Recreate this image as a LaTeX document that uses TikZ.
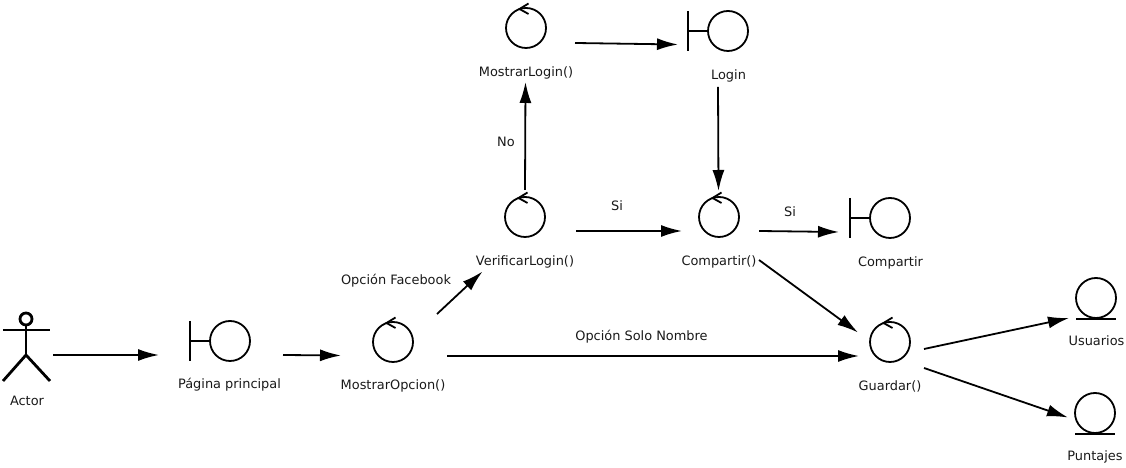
\documentclass[tikz,border=0pt]{standalone}
\usepackage{fontspec}
\setmainfont{DejaVu Sans}
\usetikzlibrary{arrows.meta}

\begin{document}
\begin{tikzpicture}[
  font=\fontsize{7.35}{9}\selectfont,
  color=black!90,
  shp/.style={line width=0.036cm, black},
  circ/.style={shp, draw, circle, inner sep=0pt, minimum size=0.8cm},
  thick shp/.style={line width=0.056cm, black},
  head/.style={thick shp, draw, circle, inner sep=0pt, minimum size=0.24cm},
  lbl/.style={inner sep=0pt, text=black!90},
  arr/.style={-{Latex[length=0.42cm, width=0.24cm]}, line width=0.036cm, black},
]
\useasboundingbox (0,0) rectangle (22.52,9.36);
% Actor
\node[head] (actorhead) at (0.52,2.98) {};
\coordinate (hip) at (0.52,2.26);
\coordinate (armL) at (0.06,2.76);
\coordinate (armR) at (1.00,2.76);
\coordinate (footL) at (0.06,1.74);
\coordinate (footR) at (1.00,1.74);
\draw[thick shp] (actorhead) -- (hip);
\draw[thick shp] (armL) -- (armR);
\draw[thick shp] (footL) -- (hip) -- (footR);
% Boundaries
\node[circ] (pagina)     at (4.60,2.54) {};
\node[circ] (login)      at (14.56,8.74) {};
\node[circ] (compartirb) at (17.80,5.00) {};
% Controllers
\node[circ] (opcion)       at (7.86,2.52) {};
\node[circ] (verificar)    at (10.50,5.02) {};
\node[circ] (mostrarlogin) at (10.52,8.80) {};
\node[circ] (compartir)    at (14.38,5.02) {};
\node[circ] (guardar)      at (17.80,2.52) {};
% Entities
\node[circ] (usuarios) at (21.92,3.40) {};
\node[circ] (puntajes) at (21.90,1.10) {};
\foreach \n in {pagina,login,compartirb} {
  \draw[shp] (\n.west) -- ++(-0.38,0);
  \draw[shp] ([shift={(-0.38,0.40)}]\n.west) -- ++(0,-0.80);
}
\foreach \n in {opcion,verificar,mostrarlogin,compartir,guardar} {
  \draw[shp] ([shift={(0.05,0.49)}]\n.center) -- ++(-0.18,-0.11) -- ++(0.18,-0.10);
}
\foreach \n in {usuarios,puntajes} {
  \draw[shp] ([xshift=-0.40cm]\n.south) -- ++(0.80,0);
}
% Labels
\node[lbl] (lactor)    at (0.54,1.34) {Actor};
\node[lbl] (lpagina)   at (4.59,1.66) {Página principal};
\node[lbl] (lopcion)   at (7.86,1.64) {MostrarOpcion()};
\node[lbl] (lface)     at (7.92,3.74) {Opción Facebook};
\node[lbl] (lverif)    at (10.50,4.13) {VerificarLogin()};
\node[lbl] (lmostrar)  at (10.52,7.90) {MostrarLogin()};
\node[lbl] (llogin)    at (14.57,7.84) {Login};
\node[lbl] (lno)       at (10.12,6.52) {No};
\node[lbl] (lsi)       at (12.34,5.24) {Si};
\node[lbl] (lcomp)     at (14.38,4.13) {Compartir()};
\node[lbl] (lsib)      at (15.80,5.12) {Si};
\node[lbl] (lcompb)    at (17.81,4.11) {Compartir};
\node[lbl] (lsolo)     at (12.83,2.63) {Opción Solo Nombre};
\node[lbl] (lguardar)  at (17.80,1.64) {Guardar()};
\node[lbl] (lusuarios) at (21.93,2.54) {Usuarios};
\node[lbl] (lpuntajes) at (21.90,0.22) {Puntajes};
% Edges
\draw[arr] ([shift={(0.54,-0.72)}]actorhead.center) -- ([shift={(-1.42,-0.28)}]pagina.center);
\draw[arr] ([shift={(1.06,-0.28)}]pagina.center) -- ([shift={(-1.04,-0.27)}]opcion.center);
\draw[arr] ([shift={(0.88,0.56)}]opcion.center) -- ([shift={(-0.85,-1.09)}]verificar.center);
\draw[arr] ([shift={(1.08,-0.28)}]opcion.center) -- ([shift={(-0.62,-0.28)}]guardar.center);
\draw[arr] ([shift={(0,0.54)}]verificar.center) -- ([shift={(-0.01,-1.08)}]mostrarlogin.center);
\draw[arr] ([shift={(0.98,-0.30)}]mostrarlogin.center) -- ([shift={(-1.00,-0.27)}]login.center);
\draw[arr] ([shift={(-0.20,-1.12)}]login.center) -- ([shift={(-0.01,0.52)}]compartir.center);
\draw[arr] ([shift={(1.02,-0.28)}]verificar.center) -- ([shift={(-0.74,-0.28)}]compartir.center);
\draw[arr] ([shift={(0.80,-0.28)}]compartir.center) -- ([shift={(-1.02,-0.28)}]compartirb.center);
\draw[arr] ([shift={(0.80,-0.86)}]compartir.center) -- ([shift={(-0.64,0.19)}]guardar.center);
\draw[arr] ([shift={(0.68,-0.14)}]guardar.center) -- ([shift={(-0.54,-0.40)}]usuarios.center);
\draw[arr] ([shift={(0.68,-0.52)}]guardar.center) -- ([shift={(-0.54,-0.09)}]puntajes.center);
\end{tikzpicture}
\end{document}
